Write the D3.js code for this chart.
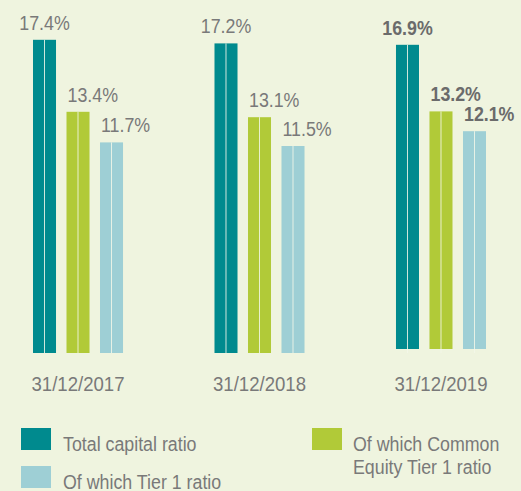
<!DOCTYPE html>
<html>
<head>
<meta charset="utf-8">
<script src="https://cdn.jsdelivr.net/npm/d3@7"></script>
<style>
  html, body { margin: 0; padding: 0; background: #eff4df; }
  svg { display: block; }
  text { font-family: "Liberation Sans", Arial, sans-serif; fill: #797979; }
</style>
</head>
<body>
<div class="chart"></div>
<script>
// data
const dates = ["31/12/2017", "31/12/2018", "31/12/2019"];
const seriesNames = ["Total capital ratio", "Of which Common Equity Tier 1 ratio", "Of which Tier 1 ratio"];
const totalCapital = [17.4, 17.2, 16.9];
const commonEquityTier1 = [13.4, 13.1, 13.2];
const tier1 = [11.7, 11.5, 12.1];
const valueLabels = [
  ["17.4%", "17.2%", "16.9%"],
  ["13.4%", "13.1%", "13.2%"],
  ["11.7%", "11.5%", "12.1%"]
];
const colors = ["#008a8e", "#b1ca38", "#9ecfd5"];

const width = 521;
const height = 491;
const baseline = 353;
const squish = 0.89; // the original font is a condensed grotesque

const series = [totalCapital, commonEquityTier1, tier1];

const svg = d3.select(".chart").append("svg")
  .attr("width", width)
  .attr("height", height);

const x0 = d3.scaleBand()
  .domain(dates)
  .range([33, 486])
  .paddingInner(0.504)
  .paddingOuter(0);

const x1 = d3.scaleBand()
  .domain(d3.range(series.length))
  .range([0, x0.bandwidth()])
  .paddingInner(0.313)
  .paddingOuter(0);

const y = d3.scaleLinear()
  .domain([0, 20])
  .range([baseline, baseline - 360]);

// the last group sits a few pixels higher in the original
const lift = (i) => i === 2 ? 4 : 0;

const cells = [];
dates.forEach((d, i) => {
  series.forEach((s, j) => {
    cells.push({date: d, gi: i, si: j, value: s[i], label: valueLabels[j][i]});
  });
});

const bars = svg.selectAll(".bar")
  .data(cells)
  .enter()
  .append("g")
  .attr("class", "bar")
  .attr("transform", (d) => "translate(" + (x0(d.date) + x1(d.si)) + ",0)");

bars.append("rect")
  .attr("x", 0)
  .attr("y", (d) => y(d.value) - lift(d.gi))
  .attr("width", x1.bandwidth())
  .attr("height", (d) => y(0) - y(d.value))
  .style("fill", (d) => colors[d.si]);

// thin pale divider down the middle of each bar
bars.append("line")
  .attr("x1", x1.bandwidth() / 2)
  .attr("x2", x1.bandwidth() / 2)
  .attr("y1", (d) => y(d.value) - lift(d.gi))
  .attr("y2", y(0))
  .style("stroke", "#f4f8ea")
  .style("stroke-width", 1)
  .style("opacity", 0.85);

bars.append("text")
  .attr("transform", (d) => {
    const tx = d.si === 0 ? x1.bandwidth() / 2 : 1;
    return "translate(" + tx + "," + (y(d.value) - lift(d.gi) - 10) + ") scale(" + squish + ",1)";
  })
  .attr("text-anchor", (d) => d.si === 0 ? "middle" : "start")
  .style("font-size", "20px")
  .style("font-weight", (d) => d.gi === 2 ? "bold" : "normal")
  .style("fill", (d) => d.gi === 2 ? "#6b6b6b" : "#797979")
  .text((d) => d.label);

// category labels
svg.selectAll(".date")
  .data(dates)
  .enter()
  .append("text")
  .attr("class", "date")
  .attr("transform", (d) => "translate(" + (x0(d) + x0.bandwidth() / 2) + ",391) scale(0.93,1)")
  .attr("text-anchor", "middle")
  .style("font-size", "20px")
  .text((d) => d);

// legend
const legendItems = [
  {name: seriesNames[0], color: colors[0], x: 21, y: 428, lines: ["Total capital ratio"]},
  {name: seriesNames[2], color: colors[2], x: 21, y: 466, lines: ["Of which Tier 1 ratio"]},
  {name: seriesNames[1], color: colors[1], x: 312, y: 428, lines: ["Of which Common", "Equity Tier 1 ratio"]}
];

const legend = svg.selectAll(".legend")
  .data(legendItems)
  .enter()
  .append("g")
  .attr("class", "legend")
  .attr("transform", (d) => "translate(" + d.x + "," + d.y + ")");

legend.append("rect")
  .attr("width", 30)
  .attr("height", 22)
  .style("fill", (d) => d.color);

legend.each(function(d) {
  const g = d3.select(this);
  d.lines.forEach((line, k) => {
    g.append("text")
      .attr("transform", "translate(" + (d.x === 21 ? 42 : 41) + "," + (23 + k * 23) + ") scale(" + squish + ",1)")
      .style("font-size", "20px")
      .text(line);
  });
});
</script>
</body>
</html>
